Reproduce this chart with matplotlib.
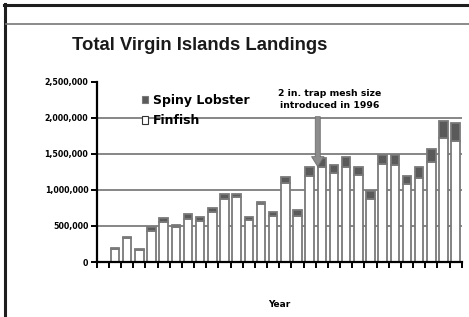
import matplotlib.pyplot as plt
from matplotlib.lines import Line2D
from matplotlib.patches import Patch
from matplotlib.ticker import FuncFormatter

# Landings in thousands of lbs, one slot per year (first slot has no bar)
slots = list(range(30))
finfish = [0, 185, 327, 165, 426, 551, 489, 597, 569, 690,
           880, 898, 583, 801, 639, 1093, 639, 1199, 1324, 1231,
           1324, 1204, 875, 1356, 1343, 1079, 1162, 1394, 1727, 1685]
lobster = [0, 14, 20, 20, 64, 56, 20, 65, 51, 55,
           60, 42, 37, 37, 60, 92, 83, 116, 125, 116,
           136, 111, 115, 130, 143, 120, 162, 175, 231, 250]
yticks = [0, 500000, 1000000, 1500000, 2000000, 2500000]

fin = [v * 1000 for v in finfish]
lob = [v * 1000 for v in lobster]

fig = plt.figure(figsize=(4.69, 3.17), dpi=100)
ax = fig.add_axes([96.7 / 469, 1 - 262 / 317, (461.7 - 96.7) / 469, 180 / 317])

# frame of the slide
fig.add_artist(Line2D([5 / 469, 5 / 469], [0, 1 - 4 / 317], color='#1e1e1e', lw=2.2))
fig.add_artist(Line2D([4 / 469, 1], [1 - 5 / 317, 1 - 5 / 317], color='#1e1e1e', lw=2.2))
fig.add_artist(Line2D([6 / 469, 1], [1 - 23.5 / 317, 1 - 23.5 / 317], color='#777777', lw=1.2))

for y in yticks[1:-1]:
    ax.axhline(y, color='#666666', lw=1.1, zorder=0)

ax.bar(slots, fin, width=0.7, color='white', edgecolor='#7a7a7a', lw=1.3, zorder=2)
ax.bar(slots, lob, bottom=fin, width=0.7, color='#5a5a5a', edgecolor='#7a7a7a', lw=1.3, zorder=2)

ax.set_xlim(-0.5, 29.5)
ax.set_ylim(0, 2500000)
ax.set_yticks(yticks)
ax.yaxis.set_major_formatter(FuncFormatter(lambda v, p: f'{int(v):,}'))
ax.set_xticks([i - 0.5 for i in range(31)])
ax.set_xticklabels([])
ax.tick_params(axis='both', direction='out', length=4, width=1.4, color='black')
ax.tick_params(axis='y', labelsize=5.7, pad=2)
for lab in ax.get_yticklabels():
    lab.set_fontweight('bold')
    lab.set_family('DejaVu Sans')
for s in ['top', 'right']:
    ax.spines[s].set_visible(False)
for s in ['left', 'bottom']:
    ax.spines[s].set_linewidth(1.6)
ax.set_xlabel('Year', fontsize=6.5, fontweight='bold', family='DejaVu Sans', labelpad=20)

fig.text(72 / 469, 1 - 50 / 317, 'Total Virgin Islands Landings', fontsize=13.3,
         fontweight='bold', family='Liberation Sans', color='#1a1a1a')

handles = [Patch(facecolor='#5a5a5a', edgecolor='#7a7a7a', lw=0.8),
           Patch(facecolor='white', edgecolor='#333333', lw=0.8)]
fig.legend(handles, ['Spiny Lobster', 'Finfish'], loc='upper left',
           bbox_to_anchor=(141.5 / 469, 1 - 94 / 317), frameon=False,
           prop={'family': 'DejaVu Sans', 'weight': 'bold', 'size': 9},
           handlelength=0.55, handleheight=0.55, handletextpad=0.35,
           labelspacing=0.58, borderpad=0, borderaxespad=0)

ax.annotate('', xy=(17.67, 1324000), xytext=(17.67, 2018000),
            arrowprops=dict(arrowstyle='simple,head_length=7.2,head_width=8.9,tail_width=3.6',
                            mutation_scale=1, fc='#8c8c8c', ec='#6e6e6e', lw=0.6,
                            shrinkA=0, shrinkB=0), zorder=3)
ax.text(18.67, 2260000, '2 in. trap mesh size\nintroduced in 1996', ha='center', va='center',
        fontsize=6.7, fontweight='bold', family='DejaVu Sans', linespacing=1.5)

fig.savefig('out.png', dpi=100)
